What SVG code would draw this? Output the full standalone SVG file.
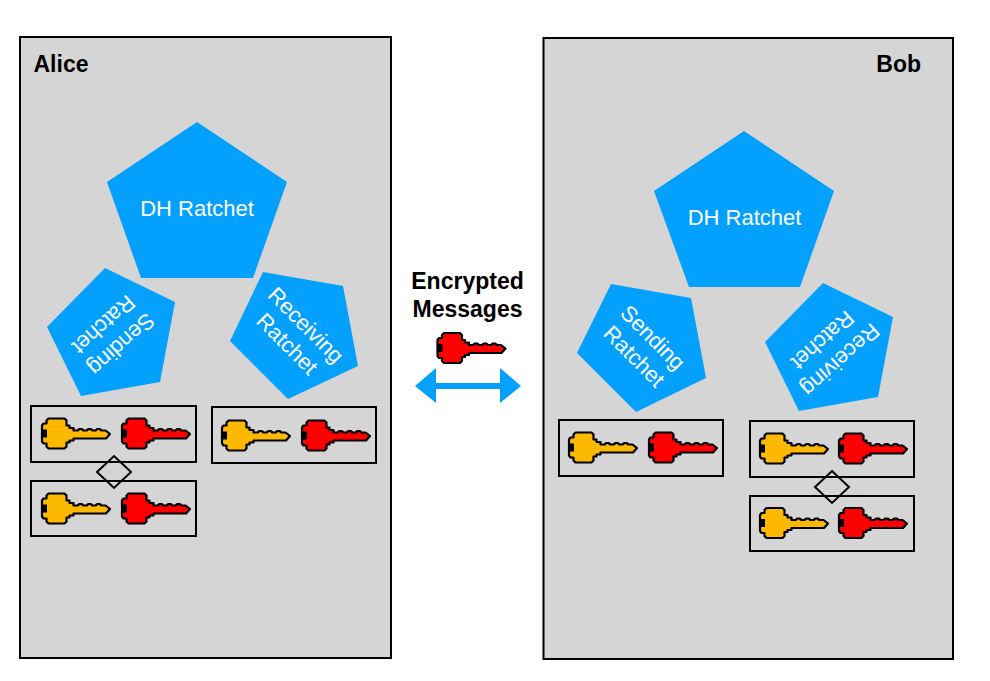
<svg xmlns="http://www.w3.org/2000/svg" width="990" height="681" viewBox="0 0 990 681">
<style>
.panel{fill:#d5d5d5;stroke:#000;stroke-width:2}
.pent{fill:#04a0fe}
.box{fill:none;stroke:#000;stroke-width:2}
.dia{fill:none;stroke:#000;stroke-width:2}
.lbl{font-family:"Liberation Sans",Arial,sans-serif;font-size:22px;fill:#fff;text-anchor:middle}
.ttl{font-family:"Liberation Sans",Arial,sans-serif;font-size:23px;font-weight:bold;fill:#000}
.y{fill:#fdb900}
.r{fill:#fe0000}
.k{stroke:#000;stroke-width:2.200;stroke-linejoin:round}
</style>
<defs>
<g id="key">
<path class="k" d="M8 1H24L26 3V8H29V10.500H33V13H37L39 11.500H41L43 13H46L48 11.500H50L52 13H55L57 11.500H59L61 13H65L69.500 16.500L65.500 21H33V23H29V25H26V29L24 31H8L6 29V26H3L1.500 24V8L3 6H6V3Z"/>
<rect x="1.500" y="12" width="5" height="8" fill="#000"/>
</g>
</defs>
<rect width="990" height="681" fill="#fff"/>
<g id="alice">
<rect class="panel" x="20" y="37" width="371" height="621"/>
<text class="ttl" x="33.500" y="72">Alice</text>
</g>
<g id="bob">
<rect class="panel" x="543.500" y="38" width="409.500" height="621"/>
<text class="ttl" x="921" y="72" text-anchor="end">Bob</text>
</g>
<g id="alice-dh">
<polygon class="pent" points="197,122 287,182 253,278 141,278 107,182"/>
<text class="lbl" x="197" y="216">DH Ratchet</text>
</g>
<g id="alice-sending">
<polygon class="pent" points="105,268 175,302 160,382 81,396 47,327"/>
<g transform="translate(112,334) rotate(138)">
<text class="lbl" x="0" y="-6.500">Sending</text>
<text class="lbl" x="0" y="20">Ratchet</text>
</g>
</g>
<g id="alice-receiving">
<polygon class="pent" points="263,272 343,286 358,366 288,399 230,341"/>
<g transform="translate(296,335) rotate(45)">
<text class="lbl" x="0" y="-6.500">Receiving</text>
<text class="lbl" x="0" y="20">Ratchet</text>
</g>
</g>
<g id="bob-dh">
<polygon class="pent" points="744,131 834,191 800,287 689,287 654,191"/>
<text class="lbl" x="744.500" y="225">DH Ratchet</text>
</g>
<g id="bob-sending">
<polygon class="pent" points="611,284 691,298 706,378 636,412 577,353"/>
<g transform="translate(643,347.500) rotate(45)">
<text class="lbl" x="0" y="-6.500">Sending</text>
<text class="lbl" x="0" y="20">Ratchet</text>
</g>
</g>
<g id="bob-receiving">
<polygon class="pent" points="823,283 893,317 878,397 799,411 765,342"/>
<g transform="translate(831,349.500) rotate(138)">
<text class="lbl" x="0" y="-6.500">Receiving</text>
<text class="lbl" x="0" y="20">Ratchet</text>
</g>
</g>
<g id="alice-keys-1">
<rect class="box" x="31" y="406" width="165" height="56"/>
<use href="#key" class="y" x="40.500" y="417.500"/>
<use href="#key" class="r" x="120.500" y="417.500"/>
</g>
<g id="alice-keys-2">
<rect class="box" x="31" y="481" width="165" height="55"/>
<use href="#key" class="y" x="40.500" y="492.500"/>
<use href="#key" class="r" x="120.500" y="492.500"/>
</g>
<g id="alice-keys-3">
<rect class="box" x="212" y="407" width="164" height="56"/>
<use href="#key" class="y" x="220.500" y="419.500"/>
<use href="#key" class="r" x="300.500" y="419.500"/>
</g>
<g id="bob-keys-1">
<rect class="box" x="559" y="420" width="164" height="56"/>
<use href="#key" class="y" x="567.500" y="431.500"/>
<use href="#key" class="r" x="647.500" y="431.500"/>
</g>
<g id="bob-keys-2">
<rect class="box" x="750" y="421" width="164" height="56"/>
<use href="#key" class="y" x="758.500" y="432.500"/>
<use href="#key" class="r" x="837.500" y="432.500"/>
</g>
<g id="bob-keys-3">
<rect class="box" x="750" y="496" width="164" height="55"/>
<use href="#key" class="y" x="758.500" y="507"/>
<use href="#key" class="r" x="837.500" y="507"/>
</g>
<g id="alice-diamond"><polygon class="dia" points="114,456 131,472 114,488 97,472"/></g>
<g id="bob-diamond"><polygon class="dia" points="832,471 849,487 832,503 815,487"/></g>
<g id="messages">
<text class="ttl" x="467.500" y="289" text-anchor="middle">Encrypted</text>
<text class="ttl" x="467.500" y="317" text-anchor="middle">Messages</text>
<use href="#key" class="r" x="436" y="332"/>
</g>
<g id="connectors">
<polygon class="pent" points="415,386 436,368 436,383 500,383 500,368 521,386 500,403 500,389 436,389 436,403"/>
</g>
</svg>
